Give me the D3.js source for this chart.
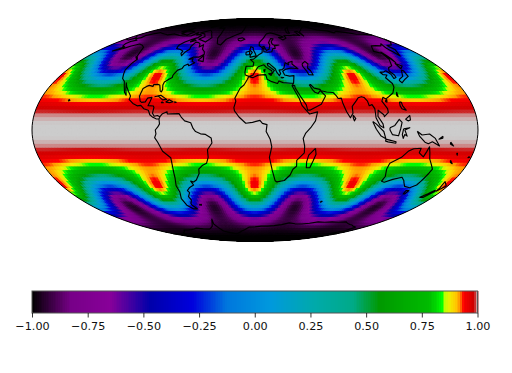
<!DOCTYPE html>
<html><head><meta charset="utf-8">
<script src="https://cdn.jsdelivr.net/npm/d3@7"></script>
<style>html,body{margin:0;padding:0;background:#fff}svg{display:block}text{font-family:"DejaVu Sans",sans-serif}</style>
</head><body><svg id="c" width="512" height="373"></svg>
<script>
// Estimated values: field(lat,lon) = latBand[lat] + latSwing[lat] * lonPhase[lon]. Latitude index 0 = equator, step 2.5 deg.
const latBand=[1.000,1.000,0.9997,0.998,0.995,0.987,0.974,0.954,0.924,0.884,0.831,0.766,0.6875,0.596,0.493,0.380,0.258,0.130,0,-0.130,-0.258,-0.380,-0.493,-0.596,-0.6875,-0.766,-0.831,-0.884,-0.924,-0.954,-0.974,-0.987,-0.995,-0.998,-0.9997,-1.000,-1.000];
const latSwing=[0,0,0,0,0.0001,0.0008,0.003,0.009,0.022,0.047,0.089,0.152,0.237,0.341,0.456,0.568,0.664,0.727,0.750,0.727,0.664,0.568,0.456,0.341,0.237,0.152,0.089,0.047,0.022,0.009,0.003,0.0008,0.0001,0,0,0,0];
const lonPhase=[1,0.985,0.940,0.866,0.766,0.643,0.5,0.342,0.174,0,-0.174,-0.342,-0.5,-0.643,-0.766,-0.866,-0.940,-0.985,-1,-0.985,-0.940,-0.866,-0.766,-0.643,-0.5,-0.342,-0.174,0,0.174,0.342,0.5,0.643,0.766,0.866,0.940,0.985];
const colorStops=["#000000","#770088","#880099","#0000aa","#0000dd","#0077dd","#0099dd","#00aaaa","#00aa88","#009900","#00bb00","#00dd00","#00ff00","#bbff00","#eeee00","#ffcc00","#ff9900","#ff0000","#dd0000","#cc0000","#cccccc"];
const colorStopValues=[-1,-0.825,-0.65,-0.47,-0.28,-0.125,0.07,0.27,0.44,0.56,0.78,0.82,0.84,0.855,0.875,0.90,0.92,0.935,0.966,0.985,1];
const colorbarTicks=[-1,-0.75,-0.5,-0.25,0,0.25,0.5,0.75,1];

const coasts=[
[[-168,65.5],[-164,66.5],[-166,68.3],[-162,70],[-156.5,71.3],[-150,70.5],[-141,69.7],[-135,69],[-128,70],[-124,69.5],[-115,68.5],[-108,68],[-102,68],[-96,68],[-94,71.5],[-90,69],[-85,69.5],[-81.5,68.5],[-82,66.5],[-87,65],[-92,62.5],[-94.5,60],[-94,58.8],[-92.5,57],[-88,56.5],[-82.5,55],[-82,52.9],[-79.5,51.3],[-79,54],[-76.5,56.5],[-78,58.7],[-77.5,62.5],[-73,62],[-70,61],[-67.5,58.3],[-64.5,60.3],[-61.5,56.5],[-57.5,54.5],[-55.8,52.5],[-60,50.2],[-66,50.2],[-69,48.5],[-65,49],[-64.5,47],[-61,46],[-65.5,43.7],[-67,45],[-70,43.7],[-70.5,41.7],[-74,40.5],[-75.5,38],[-76,36.8],[-75.7,35.2],[-78,33.9],[-81,32],[-81.3,30],[-80,26.8],[-80.5,25.2],[-81.8,26],[-82.8,28],[-84,30],[-86,30.4],[-89.5,30.2],[-89.5,29],[-93,29.7],[-95,29],[-97.3,27.5],[-97.7,24],[-97.8,22.3],[-96,19],[-94.5,18.2],[-91.5,18.5],[-90.5,21],[-87,21.5],[-87.7,18.5],[-88.5,16],[-84,15.8],[-83.3,14.8],[-83.7,11],[-82,9],[-79.5,9.5],[-77.3,8.7],[-77.9,7.2],[-80.3,7.3],[-83,8.3],[-85.7,10],[-87.5,13],[-91.5,14],[-94.5,16.2],[-97.5,15.9],[-101.5,17.5],[-105.5,20],[-105.5,22.5],[-109,25.7],[-112.5,29],[-114.7,31.5],[-112,27],[-109.5,23],[-112,25],[-115,29.5],[-117.2,32.5],[-120.5,34.5],[-122.5,37.5],[-124.3,40.5],[-124,46],[-122.7,48.5],[-127,51],[-130,54.5],[-134,58],[-140,59.8],[-146,60.8],[-152,59.2],[-156,57],[-163,55],[-158,58.5],[-162,59],[-165,61],[-165,63],[-161,64.2],[-168,65.5]],
[[-77.3,8.7],[-75.5,10.7],[-72,12],[-71.5,10.5],[-68,10.6],[-62,10.7],[-60,8.5],[-57,6],[-52,4.7],[-50,1],[-48,-1],[-44,-2.5],[-40,-2.9],[-35.5,-5.2],[-35,-8.5],[-39,-13],[-39,-18],[-41,-22],[-45,-23.5],[-48.5,-26],[-49,-29],[-53,-33.5],[-56,-34.9],[-58.4,-34.2],[-57,-37],[-62,-39],[-65,-41],[-63.8,-42.5],[-67,-45.5],[-66,-48],[-69,-51],[-68.3,-52.5],[-65.5,-55],[-70,-55],[-74.5,-52],[-75.5,-47],[-73,-42],[-73.5,-37.5],[-71.5,-32],[-70.5,-25],[-70.2,-18.3],[-76,-14],[-79,-8],[-81.2,-5],[-80,-2.5],[-80.5,0],[-78.5,2],[-77.2,4],[-77.9,7.2]],
[[-5.9,35.8],[-2,35.1],[3,36.9],[10,37.3],[11,34],[15,32.3],[20,31],[21.5,32.8],[25,31.6],[32,31.2],[34.3,31.2],[32.6,29.5],[35.5,24],[37.2,21],[39,16],[43.2,11.7],[44.5,10.5],[51.2,11.9],[49,6],[45,1.5],[41,-2],[39,-5.5],[40.5,-10.5],[40.7,-15],[35,-20],[35.5,-24],[32.7,-26],[31,-30],[26.5,-33.8],[20,-34.8],[18.3,-34],[15,-27],[12,-18],[13.7,-11],[12.3,-6],[9,-1],[9.7,3.5],[6,4.3],[4,6.3],[-2,5],[-7.5,4.4],[-13,8.5],[-16.8,12.5],[-17.4,14.7],[-16,19],[-17,21],[-13,27.7],[-9.7,30],[-6.8,34],[-5.9,35.8]],
[[-5.6,36],[-9,37],[-9.5,38.8],[-8.8,43.3],[-1.8,43.4],[-1.2,46],[-4.7,48.4],[-1.5,48.7],[1.5,50.5],[4,52],[8,53.7],[8.5,57],[10.5,57.5],[10,54.5],[14,54],[19,54.4],[21,57],[24,57.2],[24,59.3],[30,60],[23,60],[21.5,61],[21.5,63],[25.3,65.3],[22,65.7],[17.5,62],[18.5,60],[16.5,56.5],[13,55.4],[11,59],[8,58],[5.2,59.5],[5.5,62],[12,66],[18,70],[25,71],[31,70],[41,67],[34,66.5],[38,64.3],[44,66],[44,68.5],[54,68.5],[60,69],[68,68.5],[67,72],[73,72.5],[73,68],[75,72],[81,73.3],[90,75.5],[104,77.7],[113,74],[127,73],[130,71],[140,72.5],[150,71.5],[160,69.7],[170,69.8],[180,68.8]],
[[-180,68.8],[-175,67.5],[-170,66],[-173,64.3],[-180,65.2]],
[[180,65.2],[178,62.5],[170,60],[163,59.5],[163,56],[156.5,51],[155.7,57],[160,61],[155,59.3],[143,59.3],[135,54.7],[141,53],[140,48.5],[135,43.7],[130,42.3],[127.5,39.8],[129.4,37],[129,35.2],[126.4,34.5],[126.7,37.5],[124.6,40],[121,39],[118,39],[119,37.3],[122.5,37],[119.3,35],[122,31],[121.5,28.5],[118,24.5],[113,22],[110,20.5],[108,21.6],[106,19],[109,14],[109,11.5],[105.2,8.7],[105,10],[101,13],[100,9],[103.5,4],[104,1.4],[101,3],[98.3,8],[98.5,14],[97,16.7],[94.5,16],[94,19],[92,21.5],[90,22],[87,21.3],[85,19.5],[80.3,15.5],[80,11],[77.5,8],[75,12],[73,18],[72.7,21],[70,20.8],[69,22.5],[67,24.8],[61.5,25.2],[57,26],[56.3,27],[51.5,27.8],[49,30.3],[48,30],[50,26.5],[51.4,25],[54,24.2],[56.3,26.2],[59.8,22.5],[55,17],[45,13],[43.2,13],[42.5,16.5],[39,21.5],[35,28],[34.9,29.5],[32.6,29.5]],
[[34.3,31.2],[36,36.5],[32,36.2],[27.5,37],[26.3,39.7],[29,41],[35,42],[41.5,41.5],[37,45],[38,47],[33.5,46],[33.5,44.5],[30.5,46],[28,42],[26,40.8],[23,40.5],[24,38],[22.5,36.5],[20.5,39],[19.5,41.5],[14,45.5],[12.3,45.3],[12.5,44],[18.5,40.2],[16,38],[16,40],[11,42.5],[8.8,44.4],[3.2,43],[0,39.5],[-2,36.8],[-5.6,36]],
[[47,45],[51,47],[53,45],[51,42],[53,40],[54,37],[50,37.3],[49,40],[47,43],[47,45]],
[[-73,78.3],[-66,81],[-50,82.5],[-32,83.5],[-20,81.5],[-20,75],[-22,71],[-32,68],[-40,65],[-43,60],[-48,61],[-53,66],[-54,70],[-60,76],[-70,76],[-73,78.3]],
[[-80,73.7],[-72,71.5],[-68,69.5],[-62,66.5],[-65,62.5],[-72,64],[-78,65],[-74,67.5],[-80,70],[-89,71],[-80,73.7]],
[[-117,70],[-105,69],[-102,72],[-118,73],[-117,70]],
[[-125,72],[-118,76],[-116,74],[-125,72]],
[[-90,76.5],[-62,82.5],[-80,83],[-95,80],[-90,76.5]],
[[-84,65],[-80,64],[-85,62.7],[-84,65]],
[[-59,47.7],[-53,46.8],[-55.5,51.5],[-59,47.7]],
[[-128,50.7],[-123.5,48.5],[-125,50],[-128,50.7]],
[[-85,22],[-80,23],[-74.2,20.2],[-77.5,19.9],[-82,22.5],[-85,22]],
[[-74.5,18.4],[-72,20],[-68.4,18.6],[-71,18],[-74.5,18.4]],
[[-67,18],[-65.6,18.3],[-67,18.5],[-67,18]],
[[-78.3,18],[-76.3,18],[-77.5,18.5],[-78.3,18]],
[[-156,19],[-155,19.6],[-156,20.2],[-156,19]],
[[-5.5,50],[1.3,51.2],[0,53.5],[-2,56],[-2,57.7],[-5,58.6],[-6,56],[-3,54],[-5,52],[-5.5,50]],
[[-10,52],[-6,52.2],[-6,55],[-10,54],[-10,52]],
[[-24,65.5],[-18,66.3],[-14,65],[-19,63.5],[-22.5,64],[-24,65.5]],
[[11,79],[20,80.3],[27,80],[18,77],[11,79]],
[[52,71],[56,74.5],[68,77],[58,73],[56,70.7],[52,71]],
[[142,54.3],[143,49],[142.5,46],[141.8,50],[142,54.3]],
[[141,41.5],[141,45.4],[145,43.5],[141,41.5]],
[[131,34],[136,36],[140,40.5],[141.5,40],[141,36],[136,34],[131,31.5],[130,33],[131,34]],
[[120.2,23],[121.5,25],[121,22],[120.2,23]],
[[108.7,19],[110.5,20],[110,18.3],[108.7,19]],
[[120.5,18.5],[122,18.3],[122,16],[124,13],[120.8,14],[120,16],[120.5,18.5]],
[[122,7],[126,9.5],[126,6.5],[124,6],[122,7]],
[[95.3,5.5],[98,4],[104,-1],[106,-5.8],[102,-4],[98,0.5],[95.3,5.5]],
[[106,-6],[110,-6.8],[114.5,-7.7],[114.5,-8.7],[108,-7.8],[106,-7.3],[106,-6]],
[[109,1.5],[113,3],[117,7],[119,5],[117.7,1],[116,-3.8],[111,-3],[109,0],[109,1.5]],
[[120,0.8],[125,1.5],[121,0],[123,-4],[121,-3],[120,-5.5],[119,-3],[120,0.8]],
[[131,-0.8],[135,-3.3],[141,-2.6],[146,-5.5],[150.5,-10.5],[144,-7.7],[141,-9],[138,-8],[133,-4],[131,-0.8]],
[[152,-4],[149,-6],[152,-5.3],[152,-4]],
[[159,-8],[162,-10.5],[159,-9.2],[159,-8]],
[[164,-20],[167,-22.3],[165,-21.5],[164,-20]],
[[167,-15],[167.5,-16.5],[166.7,-15.6],[167,-15]],
[[178,-17.5],[178.6,-18],[177.4,-18.2],[178,-17.5]],
[[80,9.7],[81.8,7.5],[80.5,6],[79.8,8],[80,9.7]],
[[49.5,-12],[50.5,-16],[47,-25],[44,-25],[43.5,-21],[44.5,-16.5],[49.5,-12]],
[[114,-22],[122,-18],[126,-14],[130,-12.3],[136,-12],[135.5,-15],[140,-17.7],[142.5,-11],[146,-19],[153,-26],[150,-37],[146,-39],[140,-38],[136,-35],[135,-34],[131,-31.5],[124,-33],[118,-35],[115,-34.3],[115.7,-31],[113.5,-26],[114,-22]],
[[145,-41],[148,-41],[147.5,-43.5],[146,-43.5],[145,-41]],
[[173,-34.5],[178.5,-37.7],[175,-41.5],[174.5,-39],[173,-34.5]],
[[172.7,-40.5],[174,-41.7],[170.5,-46],[167,-46],[172.7,-40.5]],
[[-61,-51.8],[-58,-51.3],[-58.5,-52],[-61,-51.8]],
[[69,-49],[70.5,-49],[69.5,-49.7],[69,-49]],
[[9,39],[9.7,41],[8.3,40.5],[9,39]],
[[12.5,38],[15.5,38],[15,36.7],[12.5,38]],
[[23.5,35.3],[26.3,35.2],[24.8,34.9],[23.5,35.3]],
[[-180,-78],[-160,-79],[-150,-77],[-130,-74],[-100,-72],[-80,-73],[-68,-70],[-58,-63.5],[-62,-68],[-60,-75],[-40,-78],[-25,-75],[-10,-71],[10,-70],[30,-69.5],[50,-67],[70,-68],[90,-66],[110,-66],[130,-66],[150,-69],[165,-71],[170,-75],[160,-78],[180,-78]]
];

function mollweideRaw(l,p){
  let t=p;
  if(Math.abs(p)<Math.PI/2-1e-6){
    const k=Math.PI*Math.sin(p);
    for(let i=0;i<40;i++){const d=(2*t+Math.sin(2*t)-k)/(2+2*Math.cos(2*t));t-=d;if(Math.abs(d)<1e-9)break;}
  }
  return [2*Math.SQRT2/Math.PI*l*Math.cos(t),Math.SQRT2*Math.sin(t)];
}
const cx=255,cy=130,rx=223,ry=111.5;
const projection=d3.geoProjection(mollweideRaw).scale(rx/(2*Math.SQRT2)).translate([cx,cy]).precision(0.1);
const geo=d3.geoPath(projection);
const svg=d3.select("#c");

const color=d3.scaleLinear().domain(colorStopValues).range(colorStops).interpolate(d3.interpolateRgb).clamp(true);

const step=2.5;
const cells=[];
for(let r=-36;r<=36;r++){
  const a=Math.abs(r);
  for(let i=0;i<=144;i++){
    cells.push({lat:r*step,lon:-180+i*step,v:latBand[a]+latSwing[a]*lonPhase[i%36]});
  }
}
svg.append("defs").append("clipPath").attr("id","globe").append("path").attr("d",geo({type:"Sphere"}));
const cl=(v,m)=>Math.max(-m,Math.min(m,v));
const quad=d=>{
  const w=cl(d.lon-step/2,180),e=cl(d.lon+step/2,180),s=cl(d.lat-step/2,90),n=cl(d.lat+step/2,90);
  const p=d3.path();
  [[w,n],[e,n],[e,s],[w,s]].forEach((c,i)=>{const q=projection(c);i?p.lineTo(q[0],q[1]):p.moveTo(q[0],q[1]);});
  p.closePath();return p.toString();
};
svg.append("g").attr("clip-path","url(#globe)").selectAll("path").data(cells).join("path")
  .attr("d",quad).attr("fill",d=>color(d.v)).attr("stroke",d=>color(d.v)).attr("stroke-width",1);

svg.append("path").datum({type:"MultiLineString",coordinates:coasts}).attr("d",geo)
  .attr("fill","none").attr("stroke","#000").attr("stroke-width",1.15).attr("stroke-linejoin","round");
svg.append("path").datum({type:"Sphere"}).attr("d",geo).attr("fill","none").attr("stroke","#000").attr("stroke-width",1);

// colour bar
const bx=d3.scaleLinear().domain([-1,1]).range([32,477.5]);
const by=291,bh=22;
const levels=d3.range(256);
svg.append("g").attr("shape-rendering","crispEdges").selectAll("rect").data(levels).join("rect")
  .attr("x",k=>bx(-1+2*k/256)).attr("width",k=>bx(-1+2*(k+1)/256)-bx(-1+2*k/256)+1)
  .attr("y",by).attr("height",bh).attr("fill",k=>color(-1+2*(k+0.5)/256));
svg.append("rect").attr("x",32).attr("y",by).attr("width",445.5).attr("height",bh).attr("fill","none").attr("stroke","#555").attr("stroke-width",1);
const axis=d3.axisBottom(bx).tickValues(colorbarTicks).tickSize(4.5).tickPadding(4.5).tickFormat(v=>d3.format(".2f")(v).replace("-","\u2212"));
const ag=svg.append("g").attr("transform",`translate(0,${by+bh})`).call(axis);
ag.select(".domain").remove();
ag.selectAll("line").attr("stroke","#000").attr("stroke-width",0.8);
ag.selectAll("text").attr("fill","#111").style("font-size","11.2px").style("font-family",'"DejaVu Sans",sans-serif');
</script></body></html>
